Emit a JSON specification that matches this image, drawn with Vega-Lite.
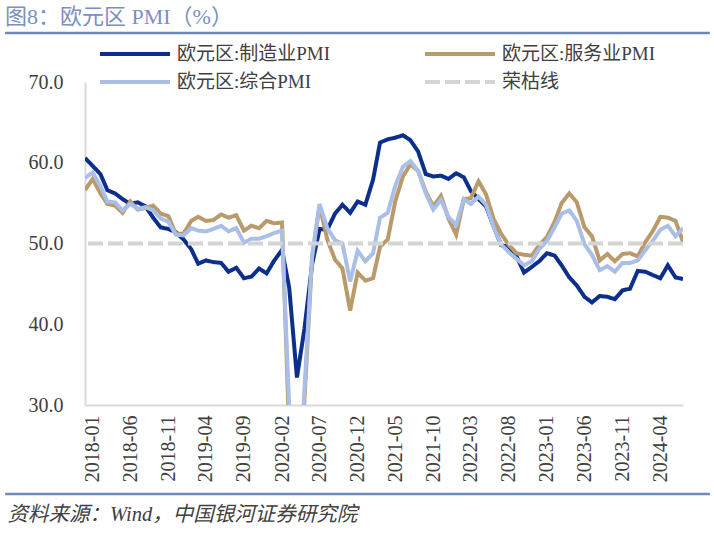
{
  "$schema": "https://vega.github.io/schema/vega-lite/v6.json",
  "width": 598,
  "height": 323,
  "autosize": {"type": "none"},
  "padding": {"left": 85, "top": 82, "right": 31, "bottom": 128},
  "background": "white",
  "config": {
    "view": {"stroke": null},
    "font": "'Liberation Serif', 'Noto Sans CJK SC'",
    "axis": {"labelOverlap": false, "labelFont": "'Liberation Serif', 'Noto Sans CJK SC'", "titleFont": "'Liberation Serif', 'Noto Sans CJK SC'"},
    "legend": {"labelFont": "'Liberation Serif', 'Noto Sans CJK SC'"}
  },
  "title": {
    "text": "图8：欧元区 PMI（%）",
    "anchor": "start",
    "frame": "group",
    "dx": -80,
    "offset": 3,
    "fontSize": 22,
    "fontWeight": "normal",
    "font": "'Liberation Serif', 'Noto Sans CJK SC'",
    "color": "#7b8fc0"
  },
  "resolve": {"axis": {"x": "independent"}},
  "layer": [
    {
      "data": {
        "values": [
          {"month": "2017-12", "mfg": 60.6, "svc": 56.6, "comp": 58.1},
          {"month": "2018-01", "mfg": 59.6, "svc": 58.0, "comp": 58.8},
          {"month": "2018-02", "mfg": 58.6, "svc": 56.2, "comp": 57.1},
          {"month": "2018-03", "mfg": 56.6, "svc": 54.9, "comp": 55.2},
          {"month": "2018-04", "mfg": 56.2, "svc": 54.7, "comp": 55.1},
          {"month": "2018-05", "mfg": 55.5, "svc": 53.8, "comp": 54.1},
          {"month": "2018-06", "mfg": 54.9, "svc": 55.2, "comp": 54.9},
          {"month": "2018-07", "mfg": 55.1, "svc": 54.2, "comp": 54.3},
          {"month": "2018-08", "mfg": 54.6, "svc": 54.4, "comp": 54.5},
          {"month": "2018-09", "mfg": 53.2, "svc": 54.7, "comp": 54.1},
          {"month": "2018-10", "mfg": 52.0, "svc": 53.7, "comp": 53.1},
          {"month": "2018-11", "mfg": 51.8, "svc": 53.4, "comp": 52.7},
          {"month": "2018-12", "mfg": 51.4, "svc": 51.2, "comp": 51.1},
          {"month": "2019-01", "mfg": 50.5, "svc": 51.2, "comp": 51.0},
          {"month": "2019-02", "mfg": 49.3, "svc": 52.8, "comp": 51.9},
          {"month": "2019-03", "mfg": 47.5, "svc": 53.3, "comp": 51.6},
          {"month": "2019-04", "mfg": 47.9, "svc": 52.8, "comp": 51.5},
          {"month": "2019-05", "mfg": 47.7, "svc": 52.9, "comp": 51.8},
          {"month": "2019-06", "mfg": 47.6, "svc": 53.6, "comp": 52.2},
          {"month": "2019-07", "mfg": 46.5, "svc": 53.2, "comp": 51.5},
          {"month": "2019-08", "mfg": 47.0, "svc": 53.5, "comp": 51.9},
          {"month": "2019-09", "mfg": 45.7, "svc": 51.6, "comp": 50.1},
          {"month": "2019-10", "mfg": 45.9, "svc": 52.2, "comp": 50.6},
          {"month": "2019-11", "mfg": 46.9, "svc": 51.9, "comp": 50.6},
          {"month": "2019-12", "mfg": 46.3, "svc": 52.8, "comp": 50.9},
          {"month": "2020-01", "mfg": 47.9, "svc": 52.5, "comp": 51.3},
          {"month": "2020-02", "mfg": 49.2, "svc": 52.6, "comp": 51.6},
          {"month": "2020-03", "mfg": 44.5, "svc": 26.4, "comp": 29.7},
          {"month": "2020-04", "mfg": 33.4, "svc": 12.0, "comp": 13.6},
          {"month": "2020-05", "mfg": 39.4, "svc": 30.5, "comp": 31.9},
          {"month": "2020-06", "mfg": 47.4, "svc": 48.3, "comp": 48.5},
          {"month": "2020-07", "mfg": 51.8, "svc": 54.7, "comp": 54.9},
          {"month": "2020-08", "mfg": 51.7, "svc": 50.5, "comp": 51.9},
          {"month": "2020-09", "mfg": 53.7, "svc": 48.0, "comp": 50.4},
          {"month": "2020-10", "mfg": 54.8, "svc": 46.9, "comp": 50.0},
          {"month": "2020-11", "mfg": 53.8, "svc": 41.7, "comp": 45.3},
          {"month": "2020-12", "mfg": 55.2, "svc": 46.4, "comp": 49.1},
          {"month": "2021-01", "mfg": 54.8, "svc": 45.4, "comp": 47.8},
          {"month": "2021-02", "mfg": 57.9, "svc": 45.7, "comp": 48.8},
          {"month": "2021-03", "mfg": 62.5, "svc": 49.6, "comp": 53.2},
          {"month": "2021-04", "mfg": 62.9, "svc": 50.5, "comp": 53.8},
          {"month": "2021-05", "mfg": 63.1, "svc": 55.2, "comp": 57.1},
          {"month": "2021-06", "mfg": 63.4, "svc": 58.3, "comp": 59.5},
          {"month": "2021-07", "mfg": 62.8, "svc": 59.8, "comp": 60.2},
          {"month": "2021-08", "mfg": 61.4, "svc": 59.0, "comp": 59.0},
          {"month": "2021-09", "mfg": 58.6, "svc": 56.4, "comp": 56.2},
          {"month": "2021-10", "mfg": 58.3, "svc": 54.6, "comp": 54.2},
          {"month": "2021-11", "mfg": 58.4, "svc": 55.9, "comp": 55.4},
          {"month": "2021-12", "mfg": 58.0, "svc": 53.1, "comp": 53.3},
          {"month": "2022-01", "mfg": 58.7, "svc": 51.1, "comp": 52.3},
          {"month": "2022-02", "mfg": 58.2, "svc": 55.5, "comp": 55.5},
          {"month": "2022-03", "mfg": 56.5, "svc": 55.6, "comp": 54.9},
          {"month": "2022-04", "mfg": 55.5, "svc": 57.7, "comp": 55.8},
          {"month": "2022-05", "mfg": 54.6, "svc": 56.1, "comp": 54.8},
          {"month": "2022-06", "mfg": 52.1, "svc": 53.0, "comp": 52.0},
          {"month": "2022-07", "mfg": 49.8, "svc": 51.2, "comp": 49.9},
          {"month": "2022-08", "mfg": 49.6, "svc": 49.8, "comp": 48.9},
          {"month": "2022-09", "mfg": 48.4, "svc": 48.8, "comp": 48.1},
          {"month": "2022-10", "mfg": 46.4, "svc": 48.6, "comp": 47.3},
          {"month": "2022-11", "mfg": 47.1, "svc": 48.5, "comp": 47.8},
          {"month": "2022-12", "mfg": 47.8, "svc": 49.8, "comp": 49.3},
          {"month": "2023-01", "mfg": 48.8, "svc": 50.8, "comp": 50.3},
          {"month": "2023-02", "mfg": 48.5, "svc": 52.7, "comp": 52.0},
          {"month": "2023-03", "mfg": 47.3, "svc": 55.0, "comp": 53.7},
          {"month": "2023-04", "mfg": 45.8, "svc": 56.2, "comp": 54.1},
          {"month": "2023-05", "mfg": 44.8, "svc": 55.1, "comp": 52.8},
          {"month": "2023-06", "mfg": 43.4, "svc": 52.0, "comp": 49.9},
          {"month": "2023-07", "mfg": 42.7, "svc": 50.9, "comp": 48.6},
          {"month": "2023-08", "mfg": 43.5, "svc": 47.9, "comp": 46.7},
          {"month": "2023-09", "mfg": 43.4, "svc": 48.7, "comp": 47.2},
          {"month": "2023-10", "mfg": 43.1, "svc": 47.8, "comp": 46.5},
          {"month": "2023-11", "mfg": 44.2, "svc": 48.7, "comp": 47.6},
          {"month": "2023-12", "mfg": 44.4, "svc": 48.8, "comp": 47.6},
          {"month": "2024-01", "mfg": 46.6, "svc": 48.4, "comp": 47.9},
          {"month": "2024-02", "mfg": 46.5, "svc": 50.2, "comp": 49.2},
          {"month": "2024-03", "mfg": 46.1, "svc": 51.5, "comp": 50.3},
          {"month": "2024-04", "mfg": 45.7, "svc": 53.3, "comp": 51.7},
          {"month": "2024-05", "mfg": 47.3, "svc": 53.2, "comp": 52.2},
          {"month": "2024-06", "mfg": 45.8, "svc": 52.8, "comp": 50.9},
          {"month": "2024-07", "mfg": 45.6, "svc": 50.2, "comp": 51.9}
        ]
      },
      "transform": [{"fold": ["mfg", "svc", "comp"], "as": ["series", "value"]}],
      "mark": {"type": "line", "strokeWidth": 4, "clip": true},
      "encoding": {
        "x": {
          "field": "month",
          "type": "temporal",
          "scale": {
            "type": "utc",
            "nice": false,
            "domain": [
              {"year": 2017, "month": 12, "utc": true},
              {"year": 2024, "month": 7, "utc": true}
            ]
          },
          "axis": {
            "values": [
              {"year": 2018, "month": 1, "utc": true},
              {"year": 2018, "month": 6, "utc": true},
              {"year": 2018, "month": 11, "utc": true},
              {"year": 2019, "month": 4, "utc": true},
              {"year": 2019, "month": 9, "utc": true},
              {"year": 2020, "month": 2, "utc": true},
              {"year": 2020, "month": 7, "utc": true},
              {"year": 2020, "month": 12, "utc": true},
              {"year": 2021, "month": 5, "utc": true},
              {"year": 2021, "month": 10, "utc": true},
              {"year": 2022, "month": 3, "utc": true},
              {"year": 2022, "month": 8, "utc": true},
              {"year": 2023, "month": 1, "utc": true},
              {"year": 2023, "month": 6, "utc": true},
              {"year": 2023, "month": 11, "utc": true},
              {"year": 2024, "month": 4, "utc": true}
            ],
            "format": "%Y-%m",
            "labelAngle": -90,
            "labelOverlap": false,
            "labelFlush": false,
            "labelBound": false,
            "ticks": false,
            "grid": false,
            "domainColor": "#d9d9d9",
            "domainWidth": 2,
            "labelFontSize": 20,
            "labelColor": "#404040",
            "labelPadding": 10,
            "title": "资料来源：Wind，中国银河证券研究院",
            "titleAnchor": "start",
            "titleAlign": "left",
            "titleX": -78,
            "titleY": 109,
            "titleBaseline": "middle",
            "titleFontSize": 20.5,
            "titleFontStyle": "italic",
            "titleFontWeight": "normal",
            "titleColor": "#404040"
          }
        },
        "y": {
          "field": "value",
          "type": "quantitative",
          "scale": {"domain": [30, 70], "nice": false, "zero": false},
          "axis": {
            "values": [30, 40, 50, 60, 70],
            "format": ".1f",
            "ticks": false,
            "grid": false,
            "labelFlush": false,
            "domainColor": "#d9d9d9",
            "domainWidth": 2,
            "labelFontSize": 20,
            "labelColor": "#404040",
            "labelPadding": 22,
            "title": null
          }
        },
        "color": {
          "field": "series",
          "type": "nominal",
          "scale": {
            "domain": ["mfg", "svc", "comp", "ref"],
            "range": ["#0c2f8c", "#b99a6b", "#a9bfe8", "#d4d4d4"]
          },
          "legend": {
            "orient": "none",
            "direction": "horizontal",
            "legendX": 13,
            "legendY": -38,
            "columns": 2,
            "title": null,
            "symbolType": "stroke",
            "symbolSize": 4900,
            "symbolStrokeWidth": 4,
            "clipHeight": 20,
            "labelFontSize": 19,
            "labelColor": "#404040",
            "labelOffset": 5,
            "columnPadding": 92,
            "rowPadding": 8,
            "labelExpr": "datum.label == 'mfg' ? '欧元区:制造业PMI' : datum.label == 'svc' ? '欧元区:服务业PMI' : datum.label == 'comp' ? '欧元区:综合PMI' : '荣枯线'"
          }
        },
        "strokeDash": {
          "field": "series",
          "type": "nominal",
          "scale": {
            "domain": ["mfg", "svc", "comp", "ref"],
            "range": [[1, 0], [1, 0], [1, 0], [15, 5]]
          },
          "legend": {
            "orient": "none",
            "direction": "horizontal",
            "legendX": 13,
            "legendY": -38,
            "columns": 2,
            "title": null,
            "symbolType": "stroke",
            "symbolSize": 4900,
            "symbolStrokeWidth": 4,
            "clipHeight": 20,
            "labelFontSize": 19,
            "labelColor": "#404040",
            "labelOffset": 5,
            "columnPadding": 92,
            "rowPadding": 8,
            "labelExpr": "datum.label == 'mfg' ? '欧元区:制造业PMI' : datum.label == 'svc' ? '欧元区:服务业PMI' : datum.label == 'comp' ? '欧元区:综合PMI' : '荣枯线'"
          }
        }
      }
    },
    {
      "data": {"values": [{"series": "ref", "value": 50}]},
      "mark": {"type": "rule", "strokeWidth": 4},
      "encoding": {
        "y": {"field": "value", "type": "quantitative"},
        "color": {"field": "series", "type": "nominal"},
        "strokeDash": {"field": "series", "type": "nominal"}
      }
    },
    {
      "data": {"values": [{}]},
      "mark": {"type": "rule", "color": "#6f87b9", "strokeWidth": 2.5},
      "encoding": {
        "x": {"datum": {"year": 2017, "month": 1, "date": 14, "utc": true}, "type": "temporal", "axis": null},
        "x2": {"datum": {"year": 2024, "month": 10, "date": 17, "utc": true}},
        "y": {"datum": 76.07, "type": "quantitative"}
      }
    },
    {
      "data": {"values": [{}]},
      "mark": {"type": "rule", "color": "#6f87b9", "strokeWidth": 2.5},
      "encoding": {
        "x": {"datum": {"year": 2017, "month": 1, "date": 14, "utc": true}, "type": "temporal", "axis": null},
        "x2": {"datum": {"year": 2024, "month": 10, "date": 17, "utc": true}},
        "y": {"datum": 18.98, "type": "quantitative"}
      }
    }
  ]
}
